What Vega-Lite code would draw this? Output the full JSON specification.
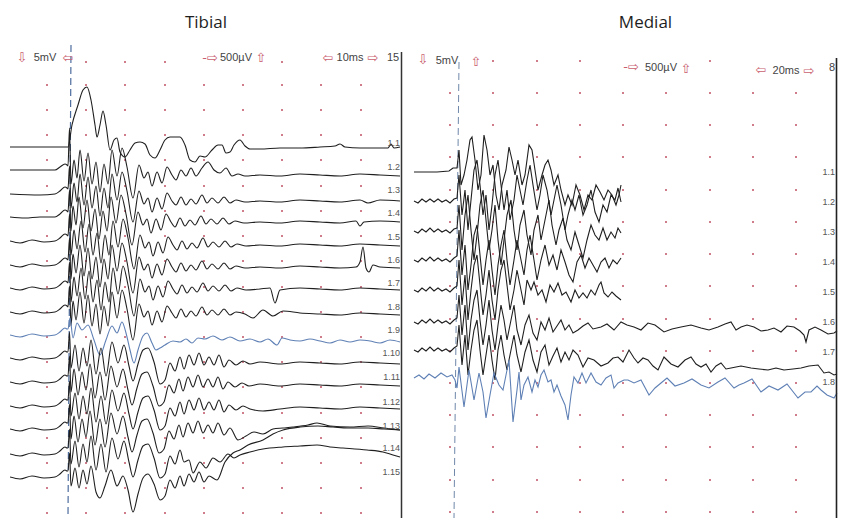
{
"$schema":"https://vega.github.io/schema/vega-lite/v6.json",
"autosize":{"type":"pad"},
"padding":{"left":10,"top":14,"right":11,"bottom":0},
"background":"white",
"spacing":2,
"config":{"view":{"stroke":null}},
"resolve":{"scale":{"x":"independent","y":"independent","color":"independent"}},
"datasets":{
"tib":[
{"s":1,"x":-58,"y":147},{"s":1,"x":-23,"y":147},{"s":1,"x":-8,"y":147},{"s":1,"x":0,"y":147},{"s":1,"x":4,"y":125},{"s":1,"x":10,"y":105},{"s":1,"x":15,"y":90},{"s":1,"x":19,"y":87},{"s":1,"x":23,"y":100},{"s":1,"x":27,"y":125},{"s":1,"x":29,"y":137},{"s":1,"x":32,"y":125},{"s":1,"x":35,"y":111},{"s":1,"x":38,"y":125},{"s":1,"x":42,"y":150},{"s":1,"x":46,"y":140},{"s":1,"x":49,"y":138},{"s":1,"x":52,"y":152},{"s":1,"x":57,"y":157},{"s":1,"x":62,"y":150},{"s":1,"x":67,"y":143},{"s":1,"x":72,"y":142},{"s":1,"x":77,"y":144},{"s":1,"x":82,"y":155},{"s":1,"x":87,"y":158},{"s":1,"x":92,"y":150},{"s":1,"x":97,"y":140},{"s":1,"x":102,"y":137},{"s":1,"x":112,"y":137},{"s":1,"x":117,"y":145},{"s":1,"x":122,"y":160},{"s":1,"x":127,"y":162},{"s":1,"x":132,"y":156},{"s":1,"x":137,"y":157},{"s":1,"x":144,"y":150},{"s":1,"x":150,"y":145},{"s":1,"x":154,"y":145},{"s":1,"x":158,"y":153},{"s":1,"x":162,"y":152},{"s":1,"x":166,"y":145},{"s":1,"x":172,"y":140},{"s":1,"x":177,"y":146},{"s":1,"x":182,"y":149},{"s":1,"x":192,"y":149},{"s":1,"x":212,"y":148},{"s":1,"x":232,"y":148},{"s":1,"x":252,"y":147},{"s":1,"x":267,"y":146},{"s":1,"x":272,"y":144},{"s":1,"x":277,"y":147},{"s":1,"x":292,"y":148},{"s":1,"x":312,"y":148},{"s":1,"x":320,"y":148},{"s":1,"x":323,"y":144},{"s":1,"x":326,"y":148},{"s":1,"x":332,"y":147},
{"s":2,"x":-58,"y":170},{"s":2,"x":-28,"y":170},{"s":2,"x":-13,"y":170},{"s":2,"x":-8,"y":167},{"s":2,"x":-3,"y":164},{"s":2,"x":-1,"y":165},{"s":2,"x":0,"y":166},{"s":2,"x":1.5,"y":128},{"s":2,"x":3,"y":184},{"s":2,"x":6,"y":160},{"s":2,"x":9,"y":178},{"s":2,"x":12,"y":150},{"s":2,"x":16,"y":181},{"s":2,"x":20,"y":153},{"s":2,"x":24,"y":184},{"s":2,"x":28,"y":162},{"s":2,"x":32,"y":192},{"s":2,"x":36,"y":164},{"s":2,"x":40,"y":184},{"s":2,"x":44,"y":150},{"s":2,"x":49,"y":176},{"s":2,"x":54,"y":148},{"s":2,"x":59,"y":167},{"s":2,"x":65,"y":198},{"s":2,"x":71,"y":165},{"s":2,"x":76,"y":178},{"s":2,"x":80,"y":172},{"s":2,"x":84,"y":186},{"s":2,"x":89,"y":172},{"s":2,"x":94,"y":183},{"s":2,"x":99,"y":167},{"s":2,"x":104,"y":175},{"s":2,"x":108,"y":180},{"s":2,"x":113,"y":170},{"s":2,"x":118,"y":176},{"s":2,"x":123,"y":168},{"s":2,"x":128,"y":176},{"s":2,"x":134,"y":168},{"s":2,"x":140,"y":162},{"s":2,"x":146,"y":170},{"s":2,"x":152,"y":173},{"s":2,"x":158,"y":168},{"s":2,"x":164,"y":176},{"s":2,"x":170,"y":174},{"s":2,"x":177,"y":176},{"s":2,"x":192,"y":175},{"s":2,"x":212,"y":176},{"s":2,"x":232,"y":174},{"s":2,"x":252,"y":175},{"s":2,"x":272,"y":176},{"s":2,"x":292,"y":174},{"s":2,"x":312,"y":175},{"s":2,"x":332,"y":176},
{"s":3,"x":-58,"y":194},{"s":3,"x":-28,"y":195},{"s":3,"x":-13,"y":194},{"s":3,"x":-8,"y":191},{"s":3,"x":-3,"y":187},{"s":3,"x":-1,"y":188},{"s":3,"x":0,"y":189},{"s":3,"x":1.5,"y":166},{"s":3,"x":3,"y":208},{"s":3,"x":6,"y":183},{"s":3,"x":9,"y":202},{"s":3,"x":12,"y":174},{"s":3,"x":16,"y":205},{"s":3,"x":20,"y":177},{"s":3,"x":24,"y":208},{"s":3,"x":28,"y":186},{"s":3,"x":32,"y":216},{"s":3,"x":36,"y":188},{"s":3,"x":40,"y":208},{"s":3,"x":44,"y":174},{"s":3,"x":49,"y":200},{"s":3,"x":54,"y":172},{"s":3,"x":59,"y":191},{"s":3,"x":65,"y":222},{"s":3,"x":71,"y":191},{"s":3,"x":76,"y":204},{"s":3,"x":80,"y":198},{"s":3,"x":84,"y":212},{"s":3,"x":89,"y":198},{"s":3,"x":94,"y":209},{"s":3,"x":99,"y":193},{"s":3,"x":104,"y":201},{"s":3,"x":108,"y":205},{"s":3,"x":113,"y":197},{"s":3,"x":118,"y":205},{"s":3,"x":123,"y":199},{"s":3,"x":128,"y":204},{"s":3,"x":134,"y":195},{"s":3,"x":139,"y":203},{"s":3,"x":144,"y":198},{"s":3,"x":150,"y":203},{"s":3,"x":156,"y":197},{"s":3,"x":162,"y":203},{"s":3,"x":168,"y":200},{"s":3,"x":177,"y":202},{"s":3,"x":192,"y":201},{"s":3,"x":212,"y":202},{"s":3,"x":232,"y":200},{"s":3,"x":252,"y":201},{"s":3,"x":272,"y":202},{"s":3,"x":292,"y":200},{"s":3,"x":300,"y":203},{"s":3,"x":312,"y":200},{"s":3,"x":332,"y":201},
{"s":4,"x":-58,"y":217},{"s":4,"x":-43,"y":218},{"s":4,"x":-28,"y":217},{"s":4,"x":-13,"y":217},{"s":4,"x":-8,"y":214},{"s":4,"x":-3,"y":210},{"s":4,"x":-1,"y":211},{"s":4,"x":0,"y":212},{"s":4,"x":1.5,"y":190},{"s":4,"x":3,"y":231},{"s":4,"x":5,"y":206},{"s":4,"x":8,"y":225},{"s":4,"x":11,"y":197},{"s":4,"x":15,"y":228},{"s":4,"x":19,"y":200},{"s":4,"x":23,"y":231},{"s":4,"x":27,"y":209},{"s":4,"x":31,"y":239},{"s":4,"x":35,"y":211},{"s":4,"x":39,"y":231},{"s":4,"x":43,"y":197},{"s":4,"x":48,"y":223},{"s":4,"x":53,"y":195},{"s":4,"x":58,"y":214},{"s":4,"x":64,"y":245},{"s":4,"x":70,"y":212},{"s":4,"x":75,"y":225},{"s":4,"x":79,"y":219},{"s":4,"x":83,"y":233},{"s":4,"x":88,"y":219},{"s":4,"x":93,"y":230},{"s":4,"x":98,"y":214},{"s":4,"x":103,"y":222},{"s":4,"x":107,"y":227},{"s":4,"x":112,"y":218},{"s":4,"x":117,"y":226},{"s":4,"x":122,"y":220},{"s":4,"x":127,"y":225},{"s":4,"x":133,"y":216},{"s":4,"x":138,"y":224},{"s":4,"x":143,"y":219},{"s":4,"x":149,"y":224},{"s":4,"x":155,"y":218},{"s":4,"x":161,"y":224},{"s":4,"x":167,"y":221},{"s":4,"x":176,"y":223},{"s":4,"x":192,"y":222},{"s":4,"x":212,"y":223},{"s":4,"x":232,"y":221},{"s":4,"x":252,"y":222},{"s":4,"x":272,"y":223},{"s":4,"x":288,"y":221},{"s":4,"x":292,"y":226},{"s":4,"x":296,"y":222},{"s":4,"x":312,"y":221},{"s":4,"x":332,"y":222},
{"s":5,"x":-58,"y":241},{"s":5,"x":-48,"y":243},{"s":5,"x":-36,"y":240},{"s":5,"x":-24,"y":242},{"s":5,"x":-13,"y":241},{"s":5,"x":-8,"y":238},{"s":5,"x":-3,"y":234},{"s":5,"x":-1,"y":235},{"s":5,"x":0,"y":236},{"s":5,"x":1.5,"y":214},{"s":5,"x":3,"y":255},{"s":5,"x":6,"y":230},{"s":5,"x":9,"y":249},{"s":5,"x":13,"y":221},{"s":5,"x":17,"y":252},{"s":5,"x":21,"y":224},{"s":5,"x":25,"y":255},{"s":5,"x":29,"y":233},{"s":5,"x":33,"y":263},{"s":5,"x":37,"y":235},{"s":5,"x":41,"y":255},{"s":5,"x":45,"y":221},{"s":5,"x":50,"y":247},{"s":5,"x":55,"y":219},{"s":5,"x":60,"y":238},{"s":5,"x":66,"y":269},{"s":5,"x":72,"y":235},{"s":5,"x":77,"y":248},{"s":5,"x":81,"y":242},{"s":5,"x":85,"y":256},{"s":5,"x":90,"y":242},{"s":5,"x":95,"y":253},{"s":5,"x":100,"y":237},{"s":5,"x":105,"y":245},{"s":5,"x":109,"y":250},{"s":5,"x":114,"y":241},{"s":5,"x":119,"y":249},{"s":5,"x":124,"y":243},{"s":5,"x":129,"y":248},{"s":5,"x":135,"y":238},{"s":5,"x":140,"y":247},{"s":5,"x":145,"y":242},{"s":5,"x":151,"y":247},{"s":5,"x":157,"y":241},{"s":5,"x":163,"y":247},{"s":5,"x":169,"y":244},{"s":5,"x":178,"y":246},{"s":5,"x":192,"y":245},{"s":5,"x":212,"y":246},{"s":5,"x":232,"y":244},{"s":5,"x":252,"y":245},{"s":5,"x":272,"y":246},{"s":5,"x":292,"y":244},{"s":5,"x":312,"y":245},{"s":5,"x":332,"y":246},
{"s":6,"x":-58,"y":265},{"s":6,"x":-48,"y":267},{"s":6,"x":-36,"y":264},{"s":6,"x":-24,"y":266},{"s":6,"x":-13,"y":265},{"s":6,"x":-8,"y":262},{"s":6,"x":-3,"y":258},{"s":6,"x":-1,"y":259},{"s":6,"x":0,"y":260},{"s":6,"x":1.5,"y":238},{"s":6,"x":3,"y":279},{"s":6,"x":5,"y":254},{"s":6,"x":8,"y":273},{"s":6,"x":12,"y":245},{"s":6,"x":16,"y":276},{"s":6,"x":20,"y":248},{"s":6,"x":24,"y":279},{"s":6,"x":28,"y":257},{"s":6,"x":32,"y":287},{"s":6,"x":36,"y":259},{"s":6,"x":40,"y":279},{"s":6,"x":44,"y":245},{"s":6,"x":49,"y":271},{"s":6,"x":54,"y":243},{"s":6,"x":59,"y":262},{"s":6,"x":65,"y":293},{"s":6,"x":71,"y":257},{"s":6,"x":76,"y":270},{"s":6,"x":80,"y":264},{"s":6,"x":84,"y":278},{"s":6,"x":89,"y":264},{"s":6,"x":94,"y":275},{"s":6,"x":99,"y":259},{"s":6,"x":104,"y":267},{"s":6,"x":108,"y":272},{"s":6,"x":113,"y":263},{"s":6,"x":118,"y":271},{"s":6,"x":123,"y":265},{"s":6,"x":128,"y":270},{"s":6,"x":134,"y":261},{"s":6,"x":139,"y":269},{"s":6,"x":144,"y":264},{"s":6,"x":150,"y":269},{"s":6,"x":156,"y":263},{"s":6,"x":162,"y":269},{"s":6,"x":168,"y":266},{"s":6,"x":177,"y":268},{"s":6,"x":192,"y":267},{"s":6,"x":212,"y":268},{"s":6,"x":232,"y":266},{"s":6,"x":252,"y":267},{"s":6,"x":272,"y":268},{"s":6,"x":288,"y":267},{"s":6,"x":292,"y":262},{"s":6,"x":295,"y":247},{"s":6,"x":298,"y":268},{"s":6,"x":301,"y":272},{"s":6,"x":305,"y":265},{"s":6,"x":312,"y":267},{"s":6,"x":332,"y":268},
{"s":7,"x":-58,"y":288},{"s":7,"x":-48,"y":290},{"s":7,"x":-36,"y":287},{"s":7,"x":-24,"y":289},{"s":7,"x":-13,"y":288},{"s":7,"x":-8,"y":285},{"s":7,"x":-3,"y":281},{"s":7,"x":-1,"y":282},{"s":7,"x":0,"y":283},{"s":7,"x":1.5,"y":262},{"s":7,"x":3,"y":302},{"s":7,"x":6,"y":277},{"s":7,"x":9,"y":296},{"s":7,"x":13,"y":268},{"s":7,"x":17,"y":299},{"s":7,"x":21,"y":271},{"s":7,"x":25,"y":302},{"s":7,"x":29,"y":280},{"s":7,"x":33,"y":310},{"s":7,"x":37,"y":282},{"s":7,"x":41,"y":302},{"s":7,"x":45,"y":268},{"s":7,"x":50,"y":294},{"s":7,"x":55,"y":266},{"s":7,"x":60,"y":285},{"s":7,"x":66,"y":316},{"s":7,"x":72,"y":279},{"s":7,"x":77,"y":292},{"s":7,"x":81,"y":286},{"s":7,"x":85,"y":300},{"s":7,"x":90,"y":286},{"s":7,"x":95,"y":297},{"s":7,"x":100,"y":281},{"s":7,"x":105,"y":289},{"s":7,"x":109,"y":294},{"s":7,"x":114,"y":285},{"s":7,"x":119,"y":293},{"s":7,"x":124,"y":287},{"s":7,"x":129,"y":292},{"s":7,"x":135,"y":283},{"s":7,"x":140,"y":291},{"s":7,"x":145,"y":286},{"s":7,"x":151,"y":291},{"s":7,"x":157,"y":285},{"s":7,"x":163,"y":291},{"s":7,"x":169,"y":288},{"s":7,"x":178,"y":290},{"s":7,"x":192,"y":289},{"s":7,"x":202,"y":288},{"s":7,"x":207,"y":303},{"s":7,"x":212,"y":290},{"s":7,"x":232,"y":288},{"s":7,"x":252,"y":289},{"s":7,"x":272,"y":290},{"s":7,"x":292,"y":288},{"s":7,"x":312,"y":289},{"s":7,"x":332,"y":290},
{"s":8,"x":-58,"y":312},{"s":8,"x":-48,"y":314},{"s":8,"x":-36,"y":311},{"s":8,"x":-24,"y":313},{"s":8,"x":-13,"y":312},{"s":8,"x":-8,"y":309},{"s":8,"x":-3,"y":305},{"s":8,"x":-1,"y":306},{"s":8,"x":0,"y":307},{"s":8,"x":1.5,"y":286},{"s":8,"x":3,"y":326},{"s":8,"x":5,"y":301},{"s":8,"x":8,"y":320},{"s":8,"x":12,"y":292},{"s":8,"x":16,"y":323},{"s":8,"x":20,"y":295},{"s":8,"x":24,"y":326},{"s":8,"x":28,"y":304},{"s":8,"x":32,"y":334},{"s":8,"x":36,"y":306},{"s":8,"x":40,"y":326},{"s":8,"x":44,"y":292},{"s":8,"x":49,"y":318},{"s":8,"x":54,"y":290},{"s":8,"x":59,"y":309},{"s":8,"x":65,"y":340},{"s":8,"x":71,"y":304},{"s":8,"x":76,"y":317},{"s":8,"x":80,"y":311},{"s":8,"x":84,"y":325},{"s":8,"x":89,"y":311},{"s":8,"x":94,"y":322},{"s":8,"x":99,"y":306},{"s":8,"x":104,"y":313},{"s":8,"x":108,"y":318},{"s":8,"x":113,"y":309},{"s":8,"x":118,"y":317},{"s":8,"x":123,"y":311},{"s":8,"x":128,"y":316},{"s":8,"x":134,"y":307},{"s":8,"x":139,"y":315},{"s":8,"x":144,"y":310},{"s":8,"x":150,"y":315},{"s":8,"x":156,"y":309},{"s":8,"x":162,"y":315},{"s":8,"x":168,"y":312},{"s":8,"x":177,"y":314},{"s":8,"x":185,"y":318},{"s":8,"x":195,"y":310},{"s":8,"x":205,"y":316},{"s":8,"x":215,"y":311},{"s":8,"x":232,"y":313},{"s":8,"x":252,"y":314},{"s":8,"x":272,"y":315},{"s":8,"x":292,"y":313},{"s":8,"x":312,"y":314},{"s":8,"x":332,"y":315},
{"s":9,"x":-58,"y":335},{"s":9,"x":-48,"y":337},{"s":9,"x":-36,"y":334},{"s":9,"x":-24,"y":336},{"s":9,"x":-13,"y":335},{"s":9,"x":-8,"y":332},{"s":9,"x":-3,"y":328},{"s":9,"x":-1,"y":329},{"s":9,"x":0,"y":329},{"s":9,"x":2,"y":318},{"s":9,"x":5,"y":338},{"s":9,"x":9,"y":323},{"s":9,"x":14,"y":330},{"s":9,"x":20,"y":325},{"s":9,"x":26,"y":340},{"s":9,"x":32,"y":355},{"s":9,"x":38,"y":340},{"s":9,"x":44,"y":326},{"s":9,"x":49,"y":333},{"s":9,"x":54,"y":322},{"s":9,"x":58,"y":333},{"s":9,"x":62,"y":350},{"s":9,"x":66,"y":363},{"s":9,"x":70,"y":350},{"s":9,"x":75,"y":336},{"s":9,"x":79,"y":333},{"s":9,"x":84,"y":343},{"s":9,"x":88,"y":350},{"s":9,"x":92,"y":348},{"s":9,"x":97,"y":345},{"s":9,"x":105,"y":341},{"s":9,"x":112,"y":342},{"s":9,"x":118,"y":339},{"s":9,"x":124,"y":343},{"s":9,"x":130,"y":338},{"s":9,"x":137,"y":339},{"s":9,"x":145,"y":336},{"s":9,"x":154,"y":340},{"s":9,"x":162,"y":337},{"s":9,"x":172,"y":341},{"s":9,"x":182,"y":339},{"s":9,"x":192,"y":342},{"s":9,"x":200,"y":339},{"s":9,"x":209,"y":345},{"s":9,"x":214,"y":338},{"s":9,"x":222,"y":340},{"s":9,"x":232,"y":341},{"s":9,"x":242,"y":339},{"s":9,"x":252,"y":341},{"s":9,"x":262,"y":343},{"s":9,"x":272,"y":340},{"s":9,"x":282,"y":342},{"s":9,"x":292,"y":340},{"s":9,"x":302,"y":341},{"s":9,"x":312,"y":343},{"s":9,"x":322,"y":340},{"s":9,"x":332,"y":342},
{"s":10,"x":-58,"y":358},{"s":10,"x":-48,"y":360},{"s":10,"x":-36,"y":357},{"s":10,"x":-24,"y":359},{"s":10,"x":-13,"y":358},{"s":10,"x":-8,"y":355},{"s":10,"x":-3,"y":351},{"s":10,"x":-1,"y":352},{"s":10,"x":0,"y":352},{"s":10,"x":1.5,"y":332},{"s":10,"x":3,"y":368},{"s":10,"x":7,"y":345},{"s":10,"x":11,"y":371},{"s":10,"x":15,"y":348},{"s":10,"x":19,"y":366},{"s":10,"x":23,"y":340},{"s":10,"x":28,"y":374},{"s":10,"x":33,"y":348},{"s":10,"x":38,"y":376},{"s":10,"x":44,"y":342},{"s":10,"x":50,"y":363},{"s":10,"x":56,"y":345},{"s":10,"x":61,"y":366},{"s":10,"x":65,"y":381},{"s":10,"x":70,"y":364},{"s":10,"x":75,"y":350},{"s":10,"x":80,"y":348},{"s":10,"x":86,"y":362},{"s":10,"x":92,"y":384},{"s":10,"x":97,"y":380},{"s":10,"x":102,"y":363},{"s":10,"x":107,"y":371},{"s":10,"x":112,"y":357},{"s":10,"x":116,"y":369},{"s":10,"x":121,"y":355},{"s":10,"x":126,"y":365},{"s":10,"x":131,"y":353},{"s":10,"x":136,"y":365},{"s":10,"x":141,"y":357},{"s":10,"x":146,"y":365},{"s":10,"x":151,"y":355},{"s":10,"x":156,"y":367},{"s":10,"x":161,"y":360},{"s":10,"x":168,"y":365},{"s":10,"x":175,"y":361},{"s":10,"x":182,"y":364},{"s":10,"x":192,"y":362},{"s":10,"x":212,"y":364},{"s":10,"x":232,"y":362},{"s":10,"x":252,"y":363},{"s":10,"x":272,"y":364},{"s":10,"x":292,"y":362},{"s":10,"x":312,"y":363},{"s":10,"x":332,"y":364},
{"s":11,"x":-58,"y":382},{"s":11,"x":-48,"y":384},{"s":11,"x":-36,"y":381},{"s":11,"x":-24,"y":383},{"s":11,"x":-13,"y":382},{"s":11,"x":-8,"y":379},{"s":11,"x":-3,"y":375},{"s":11,"x":-1,"y":376},{"s":11,"x":0,"y":376},{"s":11,"x":1.5,"y":356},{"s":11,"x":3,"y":392},{"s":11,"x":6,"y":369},{"s":11,"x":10,"y":395},{"s":11,"x":14,"y":372},{"s":11,"x":18,"y":390},{"s":11,"x":22,"y":364},{"s":11,"x":27,"y":398},{"s":11,"x":32,"y":372},{"s":11,"x":37,"y":400},{"s":11,"x":43,"y":366},{"s":11,"x":49,"y":387},{"s":11,"x":55,"y":369},{"s":11,"x":60,"y":390},{"s":11,"x":64,"y":405},{"s":11,"x":69,"y":388},{"s":11,"x":74,"y":374},{"s":11,"x":79,"y":372},{"s":11,"x":85,"y":386},{"s":11,"x":91,"y":406},{"s":11,"x":96,"y":402},{"s":11,"x":101,"y":385},{"s":11,"x":106,"y":393},{"s":11,"x":111,"y":379},{"s":11,"x":115,"y":391},{"s":11,"x":120,"y":377},{"s":11,"x":125,"y":387},{"s":11,"x":130,"y":375},{"s":11,"x":135,"y":387},{"s":11,"x":140,"y":379},{"s":11,"x":145,"y":387},{"s":11,"x":150,"y":377},{"s":11,"x":155,"y":389},{"s":11,"x":160,"y":382},{"s":11,"x":167,"y":387},{"s":11,"x":174,"y":383},{"s":11,"x":181,"y":386},{"s":11,"x":192,"y":384},{"s":11,"x":212,"y":386},{"s":11,"x":232,"y":384},{"s":11,"x":252,"y":385},{"s":11,"x":272,"y":386},{"s":11,"x":292,"y":384},{"s":11,"x":312,"y":385},{"s":11,"x":332,"y":386},
{"s":12,"x":-58,"y":406},{"s":12,"x":-48,"y":408},{"s":12,"x":-36,"y":405},{"s":12,"x":-24,"y":407},{"s":12,"x":-13,"y":406},{"s":12,"x":-8,"y":403},{"s":12,"x":-3,"y":399},{"s":12,"x":-1,"y":400},{"s":12,"x":0,"y":400},{"s":12,"x":1.5,"y":381},{"s":12,"x":3,"y":416},{"s":12,"x":7,"y":393},{"s":12,"x":11,"y":419},{"s":12,"x":15,"y":396},{"s":12,"x":19,"y":414},{"s":12,"x":23,"y":388},{"s":12,"x":28,"y":422},{"s":12,"x":33,"y":396},{"s":12,"x":38,"y":424},{"s":12,"x":44,"y":390},{"s":12,"x":50,"y":411},{"s":12,"x":56,"y":393},{"s":12,"x":61,"y":414},{"s":12,"x":65,"y":429},{"s":12,"x":70,"y":412},{"s":12,"x":75,"y":398},{"s":12,"x":80,"y":396},{"s":12,"x":86,"y":410},{"s":12,"x":92,"y":430},{"s":12,"x":97,"y":426},{"s":12,"x":102,"y":408},{"s":12,"x":107,"y":416},{"s":12,"x":112,"y":402},{"s":12,"x":116,"y":414},{"s":12,"x":121,"y":400},{"s":12,"x":126,"y":410},{"s":12,"x":131,"y":398},{"s":12,"x":136,"y":410},{"s":12,"x":141,"y":402},{"s":12,"x":146,"y":410},{"s":12,"x":151,"y":400},{"s":12,"x":156,"y":412},{"s":12,"x":161,"y":405},{"s":12,"x":168,"y":410},{"s":12,"x":175,"y":406},{"s":12,"x":182,"y":409},{"s":12,"x":195,"y":411},{"s":12,"x":212,"y":409},{"s":12,"x":232,"y":407},{"s":12,"x":252,"y":408},{"s":12,"x":272,"y":409},{"s":12,"x":292,"y":407},{"s":12,"x":312,"y":408},{"s":12,"x":332,"y":409},
{"s":13,"x":-58,"y":429},{"s":13,"x":-48,"y":431},{"s":13,"x":-36,"y":428},{"s":13,"x":-24,"y":430},{"s":13,"x":-13,"y":429},{"s":13,"x":-8,"y":426},{"s":13,"x":-3,"y":422},{"s":13,"x":-1,"y":423},{"s":13,"x":0,"y":423},{"s":13,"x":1.5,"y":404},{"s":13,"x":3,"y":439},{"s":13,"x":6,"y":416},{"s":13,"x":10,"y":442},{"s":13,"x":14,"y":419},{"s":13,"x":18,"y":437},{"s":13,"x":22,"y":411},{"s":13,"x":27,"y":445},{"s":13,"x":32,"y":419},{"s":13,"x":37,"y":447},{"s":13,"x":43,"y":413},{"s":13,"x":49,"y":434},{"s":13,"x":55,"y":416},{"s":13,"x":60,"y":437},{"s":13,"x":64,"y":452},{"s":13,"x":69,"y":435},{"s":13,"x":74,"y":421},{"s":13,"x":79,"y":419},{"s":13,"x":85,"y":433},{"s":13,"x":91,"y":453},{"s":13,"x":96,"y":449},{"s":13,"x":101,"y":431},{"s":13,"x":106,"y":439},{"s":13,"x":111,"y":425},{"s":13,"x":115,"y":437},{"s":13,"x":120,"y":423},{"s":13,"x":125,"y":433},{"s":13,"x":130,"y":421},{"s":13,"x":135,"y":433},{"s":13,"x":140,"y":425},{"s":13,"x":145,"y":433},{"s":13,"x":150,"y":423},{"s":13,"x":156,"y":435},{"s":13,"x":162,"y":428},{"s":13,"x":170,"y":440},{"s":13,"x":178,"y":436},{"s":13,"x":186,"y":432},{"s":13,"x":195,"y":434},{"s":13,"x":205,"y":429},{"s":13,"x":215,"y":428},{"s":13,"x":225,"y":427},{"s":13,"x":240,"y":425},{"s":13,"x":249,"y":423},{"s":13,"x":262,"y":426},{"s":13,"x":282,"y":427},{"s":13,"x":300,"y":426},{"s":13,"x":316,"y":428},{"s":13,"x":332,"y":430},
{"s":14,"x":-58,"y":454},{"s":14,"x":-48,"y":456},{"s":14,"x":-36,"y":453},{"s":14,"x":-24,"y":455},{"s":14,"x":-13,"y":454},{"s":14,"x":-8,"y":451},{"s":14,"x":-3,"y":447},{"s":14,"x":-1,"y":448},{"s":14,"x":0,"y":448},{"s":14,"x":1.5,"y":429},{"s":14,"x":3,"y":464},{"s":14,"x":7,"y":441},{"s":14,"x":11,"y":467},{"s":14,"x":15,"y":444},{"s":14,"x":19,"y":462},{"s":14,"x":23,"y":436},{"s":14,"x":28,"y":470},{"s":14,"x":33,"y":444},{"s":14,"x":38,"y":472},{"s":14,"x":44,"y":438},{"s":14,"x":50,"y":459},{"s":14,"x":56,"y":441},{"s":14,"x":61,"y":462},{"s":14,"x":65,"y":477},{"s":14,"x":70,"y":460},{"s":14,"x":75,"y":446},{"s":14,"x":80,"y":444},{"s":14,"x":86,"y":458},{"s":14,"x":92,"y":478},{"s":14,"x":97,"y":474},{"s":14,"x":102,"y":456},{"s":14,"x":107,"y":464},{"s":14,"x":112,"y":450},{"s":14,"x":116,"y":462},{"s":14,"x":121,"y":460},{"s":14,"x":125,"y":473},{"s":14,"x":132,"y":462},{"s":14,"x":138,"y":468},{"s":14,"x":145,"y":458},{"s":14,"x":152,"y":462},{"s":14,"x":160,"y":454},{"s":14,"x":166,"y":458},{"s":14,"x":172,"y":455},{"s":14,"x":182,"y":452},{"s":14,"x":195,"y":449},{"s":14,"x":215,"y":447},{"s":14,"x":232,"y":446},{"s":14,"x":249,"y":445},{"s":14,"x":262,"y":447},{"s":14,"x":275,"y":448},{"s":14,"x":299,"y":450},{"s":14,"x":315,"y":452},{"s":14,"x":325,"y":455},{"s":14,"x":332,"y":457},
{"s":15,"x":-58,"y":477},{"s":15,"x":-48,"y":479},{"s":15,"x":-36,"y":476},{"s":15,"x":-24,"y":478},{"s":15,"x":-13,"y":477},{"s":15,"x":-8,"y":474},{"s":15,"x":-3,"y":470},{"s":15,"x":-1,"y":471},{"s":15,"x":0,"y":471},{"s":15,"x":1.5,"y":453},{"s":15,"x":3,"y":486},{"s":15,"x":7,"y":468},{"s":15,"x":11,"y":488},{"s":15,"x":15,"y":470},{"s":15,"x":19,"y":484},{"s":15,"x":23,"y":466},{"s":15,"x":28,"y":492},{"s":15,"x":32,"y":498},{"s":15,"x":37,"y":486},{"s":15,"x":43,"y":470},{"s":15,"x":49,"y":486},{"s":15,"x":55,"y":476},{"s":15,"x":60,"y":490},{"s":15,"x":65,"y":512},{"s":15,"x":70,"y":494},{"s":15,"x":75,"y":478},{"s":15,"x":80,"y":474},{"s":15,"x":86,"y":484},{"s":15,"x":92,"y":500},{"s":15,"x":97,"y":496},{"s":15,"x":102,"y":480},{"s":15,"x":107,"y":488},{"s":15,"x":112,"y":476},{"s":15,"x":116,"y":486},{"s":15,"x":121,"y":474},{"s":15,"x":126,"y":482},{"s":15,"x":131,"y":472},{"s":15,"x":136,"y":482},{"s":15,"x":141,"y":476},{"s":15,"x":149,"y":480},{"s":15,"x":157,"y":462},{"s":15,"x":165,"y":453},{"s":15,"x":172,"y":450},{"s":15,"x":180,"y":445},{"s":15,"x":195,"y":440},{"s":15,"x":205,"y":434},{"s":15,"x":215,"y":430},{"s":15,"x":232,"y":427},{"s":15,"x":250,"y":426},{"s":15,"x":265,"y":427},{"s":15,"x":280,"y":428},{"s":15,"x":300,"y":428},{"s":15,"x":316,"y":429},{"s":15,"x":332,"y":430}
],
"med":[
{"s":1,"x":-43,"y":172},{"s":1,"x":-20,"y":172},{"s":1,"x":-8,"y":171},{"s":1,"x":-4,"y":168},{"s":1,"x":0,"y":168},{"s":1,"x":2,"y":150},{"s":1,"x":4,"y":185},{"s":1,"x":7,"y":175},{"s":1,"x":10,"y":160},{"s":1,"x":13,"y":140},{"s":1,"x":15,"y":137},{"s":1,"x":18,"y":160},{"s":1,"x":21,"y":190},{"s":1,"x":24,"y":175},{"s":1,"x":27,"y":135},{"s":1,"x":30,"y":150},{"s":1,"x":33,"y":175},{"s":1,"x":36,"y":165},{"s":1,"x":39,"y":195},{"s":1,"x":42,"y":210},{"s":1,"x":45,"y":185},{"s":1,"x":49,"y":170},{"s":1,"x":52,"y":147},{"s":1,"x":55,"y":160},{"s":1,"x":58,"y":175},{"s":1,"x":61,"y":160},{"s":1,"x":65,"y":185},{"s":1,"x":68,"y":175},{"s":1,"x":72,"y":145},{"s":1,"x":75,"y":150},{"s":1,"x":78,"y":170},{"s":1,"x":81,"y":190},{"s":1,"x":85,"y":175},{"s":1,"x":88,"y":165},{"s":1,"x":91,"y":160},{"s":1,"x":94,"y":170},{"s":1,"x":97,"y":185},{"s":1,"x":101,"y":175},{"s":1,"x":104,"y":190},{"s":1,"x":108,"y":205},{"s":1,"x":111,"y":195},{"s":1,"x":115,"y":205},{"s":1,"x":119,"y":185},{"s":1,"x":123,"y":195},{"s":1,"x":127,"y":210},{"s":1,"x":131,"y":195},{"s":1,"x":135,"y":200},{"s":1,"x":139,"y":185},{"s":1,"x":143,"y":192},{"s":1,"x":147,"y":200},{"s":1,"x":151,"y":190},{"s":1,"x":155,"y":195},{"s":1,"x":159,"y":205},{"s":1,"x":162,"y":195},{"s":1,"x":164,"y":185},
{"s":2,"x":-43,"y":201},{"s":2,"x":-39,"y":203},{"s":2,"x":-35,"y":199},{"s":2,"x":-31,"y":202},{"s":2,"x":-27,"y":199},{"s":2,"x":-23,"y":202},{"s":2,"x":-19,"y":199},{"s":2,"x":-15,"y":202},{"s":2,"x":-11,"y":200},{"s":2,"x":-7,"y":203},{"s":2,"x":-3,"y":199},{"s":2,"x":0,"y":198},{"s":2,"x":2,"y":175},{"s":2,"x":5,"y":215},{"s":2,"x":8,"y":190},{"s":2,"x":11,"y":230},{"s":2,"x":14,"y":200},{"s":2,"x":17,"y":170},{"s":2,"x":20,"y":160},{"s":2,"x":23,"y":185},{"s":2,"x":26,"y":215},{"s":2,"x":29,"y":195},{"s":2,"x":32,"y":230},{"s":2,"x":35,"y":205},{"s":2,"x":38,"y":175},{"s":2,"x":41,"y":160},{"s":2,"x":44,"y":185},{"s":2,"x":47,"y":210},{"s":2,"x":50,"y":190},{"s":2,"x":53,"y":220},{"s":2,"x":57,"y":200},{"s":2,"x":60,"y":175},{"s":2,"x":63,"y":190},{"s":2,"x":66,"y":205},{"s":2,"x":70,"y":180},{"s":2,"x":73,"y":165},{"s":2,"x":76,"y":185},{"s":2,"x":80,"y":210},{"s":2,"x":83,"y":195},{"s":2,"x":86,"y":175},{"s":2,"x":90,"y":190},{"s":2,"x":94,"y":215},{"s":2,"x":97,"y":200},{"s":2,"x":100,"y":185},{"s":2,"x":104,"y":205},{"s":2,"x":108,"y":230},{"s":2,"x":111,"y":215},{"s":2,"x":115,"y":200},{"s":2,"x":118,"y":210},{"s":2,"x":122,"y":195},{"s":2,"x":126,"y":215},{"s":2,"x":130,"y":205},{"s":2,"x":134,"y":190},{"s":2,"x":138,"y":212},{"s":2,"x":142,"y":222},{"s":2,"x":146,"y":205},{"s":2,"x":150,"y":212},{"s":2,"x":154,"y":195},{"s":2,"x":158,"y":200},{"s":2,"x":161,"y":188},{"s":2,"x":164,"y":202},
{"s":3,"x":-43,"y":231},{"s":3,"x":-39,"y":233},{"s":3,"x":-35,"y":229},{"s":3,"x":-31,"y":232},{"s":3,"x":-27,"y":228},{"s":3,"x":-23,"y":232},{"s":3,"x":-19,"y":229},{"s":3,"x":-15,"y":232},{"s":3,"x":-11,"y":230},{"s":3,"x":-7,"y":233},{"s":3,"x":-3,"y":229},{"s":3,"x":0,"y":228},{"s":3,"x":2,"y":205},{"s":3,"x":5,"y":250},{"s":3,"x":8,"y":215},{"s":3,"x":11,"y":195},{"s":3,"x":14,"y":230},{"s":3,"x":17,"y":260},{"s":3,"x":20,"y":235},{"s":3,"x":23,"y":205},{"s":3,"x":26,"y":190},{"s":3,"x":29,"y":220},{"s":3,"x":32,"y":250},{"s":3,"x":35,"y":230},{"s":3,"x":38,"y":205},{"s":3,"x":41,"y":240},{"s":3,"x":44,"y":265},{"s":3,"x":47,"y":240},{"s":3,"x":50,"y":215},{"s":3,"x":54,"y":200},{"s":3,"x":57,"y":230},{"s":3,"x":60,"y":250},{"s":3,"x":63,"y":225},{"s":3,"x":67,"y":210},{"s":3,"x":70,"y":235},{"s":3,"x":74,"y":255},{"s":3,"x":77,"y":230},{"s":3,"x":81,"y":215},{"s":3,"x":84,"y":240},{"s":3,"x":88,"y":220},{"s":3,"x":92,"y":200},{"s":3,"x":95,"y":225},{"s":3,"x":99,"y":245},{"s":3,"x":102,"y":230},{"s":3,"x":106,"y":218},{"s":3,"x":110,"y":240},{"s":3,"x":114,"y":250},{"s":3,"x":118,"y":232},{"s":3,"x":122,"y":245},{"s":3,"x":126,"y":258},{"s":3,"x":130,"y":240},{"s":3,"x":134,"y":225},{"s":3,"x":138,"y":235},{"s":3,"x":142,"y":240},{"s":3,"x":146,"y":228},{"s":3,"x":150,"y":240},{"s":3,"x":154,"y":232},{"s":3,"x":158,"y":238},{"s":3,"x":161,"y":228},{"s":3,"x":164,"y":233},
{"s":4,"x":-43,"y":260},{"s":4,"x":-39,"y":262},{"s":4,"x":-35,"y":258},{"s":4,"x":-31,"y":261},{"s":4,"x":-27,"y":257},{"s":4,"x":-23,"y":261},{"s":4,"x":-19,"y":258},{"s":4,"x":-15,"y":261},{"s":4,"x":-11,"y":259},{"s":4,"x":-7,"y":262},{"s":4,"x":-3,"y":258},{"s":4,"x":0,"y":256},{"s":4,"x":2,"y":230},{"s":4,"x":5,"y":275},{"s":4,"x":8,"y":245},{"s":4,"x":11,"y":290},{"s":4,"x":14,"y":265},{"s":4,"x":17,"y":235},{"s":4,"x":20,"y":225},{"s":4,"x":23,"y":255},{"s":4,"x":26,"y":285},{"s":4,"x":29,"y":260},{"s":4,"x":32,"y":240},{"s":4,"x":35,"y":270},{"s":4,"x":38,"y":295},{"s":4,"x":41,"y":265},{"s":4,"x":44,"y":245},{"s":4,"x":47,"y":230},{"s":4,"x":50,"y":260},{"s":4,"x":53,"y":285},{"s":4,"x":57,"y":260},{"s":4,"x":60,"y":240},{"s":4,"x":63,"y":255},{"s":4,"x":67,"y":275},{"s":4,"x":70,"y":250},{"s":4,"x":73,"y":235},{"s":4,"x":77,"y":260},{"s":4,"x":80,"y":280},{"s":4,"x":84,"y":260},{"s":4,"x":88,"y":245},{"s":4,"x":92,"y":265},{"s":4,"x":96,"y":255},{"s":4,"x":100,"y":270},{"s":4,"x":104,"y":250},{"s":4,"x":108,"y":262},{"s":4,"x":112,"y":275},{"s":4,"x":116,"y":282},{"s":4,"x":120,"y":262},{"s":4,"x":124,"y":255},{"s":4,"x":128,"y":268},{"s":4,"x":132,"y":258},{"s":4,"x":136,"y":265},{"s":4,"x":140,"y":272},{"s":4,"x":144,"y":262},{"s":4,"x":148,"y":258},{"s":4,"x":152,"y":268},{"s":4,"x":156,"y":260},{"s":4,"x":160,"y":264},{"s":4,"x":164,"y":258},
{"s":5,"x":-43,"y":290},{"s":5,"x":-39,"y":292},{"s":5,"x":-35,"y":288},{"s":5,"x":-31,"y":291},{"s":5,"x":-27,"y":287},{"s":5,"x":-23,"y":291},{"s":5,"x":-19,"y":288},{"s":5,"x":-15,"y":291},{"s":5,"x":-11,"y":289},{"s":5,"x":-7,"y":292},{"s":5,"x":-3,"y":288},{"s":5,"x":0,"y":286},{"s":5,"x":2,"y":260},{"s":5,"x":5,"y":305},{"s":5,"x":8,"y":275},{"s":5,"x":11,"y":320},{"s":5,"x":14,"y":290},{"s":5,"x":17,"y":265},{"s":5,"x":20,"y":255},{"s":5,"x":23,"y":285},{"s":5,"x":26,"y":315},{"s":5,"x":29,"y":295},{"s":5,"x":32,"y":270},{"s":5,"x":35,"y":300},{"s":5,"x":38,"y":320},{"s":5,"x":41,"y":290},{"s":5,"x":44,"y":270},{"s":5,"x":47,"y":260},{"s":5,"x":50,"y":285},{"s":5,"x":53,"y":310},{"s":5,"x":57,"y":290},{"s":5,"x":60,"y":270},{"s":5,"x":63,"y":285},{"s":5,"x":67,"y":305},{"s":5,"x":70,"y":280},{"s":5,"x":74,"y":290},{"s":5,"x":77,"y":282},{"s":5,"x":81,"y":295},{"s":5,"x":85,"y":290},{"s":5,"x":89,"y":302},{"s":5,"x":93,"y":285},{"s":5,"x":97,"y":292},{"s":5,"x":101,"y":283},{"s":5,"x":105,"y":295},{"s":5,"x":109,"y":292},{"s":5,"x":114,"y":302},{"s":5,"x":118,"y":290},{"s":5,"x":122,"y":298},{"s":5,"x":126,"y":293},{"s":5,"x":130,"y":298},{"s":5,"x":134,"y":290},{"s":5,"x":138,"y":295},{"s":5,"x":142,"y":285},{"s":5,"x":144,"y":282},{"s":5,"x":147,"y":293},{"s":5,"x":151,"y":297},{"s":5,"x":155,"y":292},{"s":5,"x":159,"y":296},{"s":5,"x":164,"y":300},
{"s":6,"x":-43,"y":322},{"s":6,"x":-39,"y":324},{"s":6,"x":-35,"y":320},{"s":6,"x":-31,"y":323},{"s":6,"x":-27,"y":319},{"s":6,"x":-23,"y":323},{"s":6,"x":-19,"y":320},{"s":6,"x":-15,"y":323},{"s":6,"x":-11,"y":321},{"s":6,"x":-7,"y":324},{"s":6,"x":-3,"y":320},{"s":6,"x":0,"y":318},{"s":6,"x":2,"y":295},{"s":6,"x":5,"y":335},{"s":6,"x":8,"y":305},{"s":6,"x":11,"y":350},{"s":6,"x":14,"y":320},{"s":6,"x":17,"y":300},{"s":6,"x":20,"y":290},{"s":6,"x":23,"y":320},{"s":6,"x":26,"y":345},{"s":6,"x":29,"y":325},{"s":6,"x":32,"y":300},{"s":6,"x":35,"y":330},{"s":6,"x":38,"y":350},{"s":6,"x":41,"y":325},{"s":6,"x":44,"y":305},{"s":6,"x":47,"y":320},{"s":6,"x":50,"y":340},{"s":6,"x":54,"y":320},{"s":6,"x":57,"y":305},{"s":6,"x":60,"y":330},{"s":6,"x":64,"y":345},{"s":6,"x":68,"y":325},{"s":6,"x":72,"y":315},{"s":6,"x":76,"y":333},{"s":6,"x":80,"y":340},{"s":6,"x":84,"y":322},{"s":6,"x":88,"y":330},{"s":6,"x":92,"y":318},{"s":6,"x":96,"y":332},{"s":6,"x":100,"y":326},{"s":6,"x":104,"y":320},{"s":6,"x":108,"y":330},{"s":6,"x":112,"y":325},{"s":6,"x":116,"y":333},{"s":6,"x":121,"y":330},{"s":6,"x":126,"y":326},{"s":6,"x":131,"y":323},{"s":6,"x":136,"y":329},{"s":6,"x":144,"y":327},{"s":6,"x":150,"y":324},{"s":6,"x":157,"y":330},{"s":6,"x":164,"y":322},{"s":6,"x":170,"y":325},{"s":6,"x":177,"y":327},{"s":6,"x":184,"y":330},{"s":6,"x":191,"y":323},{"s":6,"x":198,"y":325},{"s":6,"x":207,"y":332},{"s":6,"x":215,"y":329},{"s":6,"x":224,"y":327},{"s":6,"x":234,"y":325},{"s":6,"x":244,"y":328},{"s":6,"x":252,"y":330},{"s":6,"x":261,"y":327},{"s":6,"x":268,"y":324},{"s":6,"x":274,"y":322},{"s":6,"x":279,"y":330},{"s":6,"x":284,"y":327},{"s":6,"x":290,"y":325},{"s":6,"x":297,"y":327},{"s":6,"x":304,"y":331},{"s":6,"x":311,"y":330},{"s":6,"x":317,"y":328},{"s":6,"x":324,"y":332},{"s":6,"x":330,"y":326},{"s":6,"x":337,"y":327},{"s":6,"x":343,"y":331},{"s":6,"x":347,"y":335},{"s":6,"x":349,"y":342},{"s":6,"x":352,"y":330},{"s":6,"x":358,"y":327},{"s":6,"x":364,"y":330},{"s":6,"x":371,"y":334},{"s":6,"x":377,"y":333},{"s":6,"x":380,"y":331},
{"s":7,"x":-43,"y":350},{"s":7,"x":-39,"y":352},{"s":7,"x":-35,"y":348},{"s":7,"x":-31,"y":351},{"s":7,"x":-27,"y":347},{"s":7,"x":-23,"y":351},{"s":7,"x":-19,"y":348},{"s":7,"x":-15,"y":351},{"s":7,"x":-11,"y":349},{"s":7,"x":-7,"y":352},{"s":7,"x":-3,"y":348},{"s":7,"x":0,"y":346},{"s":7,"x":2,"y":325},{"s":7,"x":5,"y":365},{"s":7,"x":8,"y":335},{"s":7,"x":11,"y":375},{"s":7,"x":14,"y":350},{"s":7,"x":17,"y":330},{"s":7,"x":20,"y":320},{"s":7,"x":23,"y":350},{"s":7,"x":26,"y":375},{"s":7,"x":29,"y":355},{"s":7,"x":32,"y":335},{"s":7,"x":35,"y":360},{"s":7,"x":38,"y":380},{"s":7,"x":41,"y":350},{"s":7,"x":44,"y":335},{"s":7,"x":47,"y":355},{"s":7,"x":50,"y":370},{"s":7,"x":54,"y":350},{"s":7,"x":57,"y":335},{"s":7,"x":60,"y":355},{"s":7,"x":64,"y":372},{"s":7,"x":68,"y":352},{"s":7,"x":72,"y":340},{"s":7,"x":76,"y":360},{"s":7,"x":80,"y":372},{"s":7,"x":84,"y":352},{"s":7,"x":88,"y":345},{"s":7,"x":92,"y":365},{"s":7,"x":96,"y":356},{"s":7,"x":100,"y":348},{"s":7,"x":104,"y":362},{"s":7,"x":108,"y":352},{"s":7,"x":112,"y":360},{"s":7,"x":116,"y":350},{"s":7,"x":121,"y":355},{"s":7,"x":126,"y":367},{"s":7,"x":131,"y":358},{"s":7,"x":137,"y":360},{"s":7,"x":144,"y":366},{"s":7,"x":151,"y":363},{"s":7,"x":156,"y":358},{"s":7,"x":161,"y":357},{"s":7,"x":166,"y":362},{"s":7,"x":172,"y":350},{"s":7,"x":177,"y":358},{"s":7,"x":181,"y":363},{"s":7,"x":186,"y":358},{"s":7,"x":191,"y":360},{"s":7,"x":196,"y":366},{"s":7,"x":201,"y":370},{"s":7,"x":207,"y":357},{"s":7,"x":214,"y":364},{"s":7,"x":221,"y":367},{"s":7,"x":228,"y":360},{"s":7,"x":234,"y":357},{"s":7,"x":239,"y":364},{"s":7,"x":244,"y":367},{"s":7,"x":249,"y":364},{"s":7,"x":254,"y":372},{"s":7,"x":259,"y":366},{"s":7,"x":264,"y":363},{"s":7,"x":269,"y":369},{"s":7,"x":274,"y":368},{"s":7,"x":284,"y":366},{"s":7,"x":294,"y":368},{"s":7,"x":302,"y":369},{"s":7,"x":311,"y":370},{"s":7,"x":319,"y":368},{"s":7,"x":327,"y":370},{"s":7,"x":336,"y":369},{"s":7,"x":344,"y":368},{"s":7,"x":352,"y":366},{"s":7,"x":361,"y":365},{"s":7,"x":364,"y":369},{"s":7,"x":367,"y":373},{"s":7,"x":372,"y":372},{"s":7,"x":377,"y":375},{"s":7,"x":380,"y":374},
{"s":8,"x":-43,"y":378},{"s":8,"x":-38,"y":375},{"s":8,"x":-33,"y":379},{"s":8,"x":-28,"y":374},{"s":8,"x":-22,"y":378},{"s":8,"x":-16,"y":373},{"s":8,"x":-10,"y":377},{"s":8,"x":-5,"y":375},{"s":8,"x":-2,"y":380},{"s":8,"x":0,"y":388},{"s":8,"x":2,"y":367},{"s":8,"x":7,"y":407},{"s":8,"x":12,"y":370},{"s":8,"x":17,"y":400},{"s":8,"x":22,"y":373},{"s":8,"x":26,"y":392},{"s":8,"x":29,"y":418},{"s":8,"x":33,"y":395},{"s":8,"x":37,"y":373},{"s":8,"x":42,"y":385},{"s":8,"x":46,"y":390},{"s":8,"x":52,"y":360},{"s":8,"x":56,"y":422},{"s":8,"x":60,"y":390},{"s":8,"x":62,"y":372},{"s":8,"x":64,"y":400},{"s":8,"x":67,"y":385},{"s":8,"x":71,"y":377},{"s":8,"x":75,"y":392},{"s":8,"x":78,"y":380},{"s":8,"x":81,"y":387},{"s":8,"x":84,"y":375},{"s":8,"x":87,"y":370},{"s":8,"x":91,"y":382},{"s":8,"x":94,"y":380},{"s":8,"x":97,"y":392},{"s":8,"x":100,"y":385},{"s":8,"x":104,"y":396},{"s":8,"x":108,"y":405},{"s":8,"x":111,"y":420},{"s":8,"x":114,"y":395},{"s":8,"x":117,"y":377},{"s":8,"x":121,"y":383},{"s":8,"x":125,"y":373},{"s":8,"x":129,"y":383},{"s":8,"x":134,"y":373},{"s":8,"x":139,"y":382},{"s":8,"x":144,"y":385},{"s":8,"x":149,"y":378},{"s":8,"x":154,"y":375},{"s":8,"x":157,"y":388},{"s":8,"x":161,"y":383},{"s":8,"x":167,"y":380},{"s":8,"x":171,"y":380},{"s":8,"x":177,"y":383},{"s":8,"x":184,"y":380},{"s":8,"x":192,"y":395},{"s":8,"x":198,"y":388},{"s":8,"x":204,"y":383},{"s":8,"x":210,"y":378},{"s":8,"x":218,"y":386},{"s":8,"x":227,"y":383},{"s":8,"x":235,"y":379},{"s":8,"x":244,"y":385},{"s":8,"x":252,"y":388},{"s":8,"x":261,"y":382},{"s":8,"x":268,"y":378},{"s":8,"x":277,"y":388},{"s":8,"x":282,"y":385},{"s":8,"x":287,"y":383},{"s":8,"x":295,"y":379},{"s":8,"x":304,"y":392},{"s":8,"x":312,"y":386},{"s":8,"x":321,"y":390},{"s":8,"x":330,"y":384},{"s":8,"x":341,"y":398},{"s":8,"x":348,"y":392},{"s":8,"x":354,"y":392},{"s":8,"x":360,"y":386},{"s":8,"x":364,"y":390},{"s":8,"x":370,"y":395},{"s":8,"x":377,"y":398},{"s":8,"x":380,"y":393}
],
"tdots":[
{"x":18,"y":62},{"x":57,"y":62},{"x":97,"y":62},{"x":214,"y":62},
{"x":-21,"y":85},{"x":18,"y":85},{"x":57,"y":85},{"x":97,"y":85},{"x":136,"y":85},{"x":175,"y":85},{"x":214,"y":85},{"x":253,"y":85},{"x":293,"y":85},
{"x":-21,"y":110},{"x":18,"y":110},{"x":57,"y":110},{"x":97,"y":110},{"x":136,"y":110},{"x":175,"y":110},{"x":214,"y":110},{"x":253,"y":110},{"x":293,"y":110},
{"x":-21,"y":135},{"x":18,"y":135},{"x":57,"y":135},{"x":97,"y":135},{"x":136,"y":135},{"x":175,"y":135},{"x":214,"y":135},{"x":253,"y":135},{"x":293,"y":135},
{"x":-21,"y":160},{"x":18,"y":160},{"x":57,"y":160},{"x":97,"y":160},{"x":136,"y":160},{"x":175,"y":160},{"x":214,"y":160},{"x":253,"y":160},{"x":293,"y":160},
{"x":-21,"y":186},{"x":18,"y":186},{"x":57,"y":186},{"x":97,"y":186},{"x":136,"y":186},{"x":175,"y":186},{"x":214,"y":186},{"x":253,"y":186},{"x":293,"y":186},
{"x":-21,"y":211},{"x":18,"y":211},{"x":57,"y":211},{"x":97,"y":211},{"x":136,"y":211},{"x":175,"y":211},{"x":214,"y":211},{"x":253,"y":211},{"x":293,"y":211},
{"x":-21,"y":236},{"x":18,"y":236},{"x":57,"y":236},{"x":97,"y":236},{"x":136,"y":236},{"x":175,"y":236},{"x":214,"y":236},{"x":253,"y":236},{"x":293,"y":236},
{"x":-21,"y":261},{"x":18,"y":261},{"x":57,"y":261},{"x":97,"y":261},{"x":136,"y":261},{"x":175,"y":261},{"x":214,"y":261},{"x":253,"y":261},{"x":293,"y":261},
{"x":-21,"y":287},{"x":18,"y":287},{"x":57,"y":287},{"x":97,"y":287},{"x":136,"y":287},{"x":175,"y":287},{"x":214,"y":287},{"x":253,"y":287},{"x":293,"y":287},
{"x":-21,"y":312},{"x":18,"y":312},{"x":57,"y":312},{"x":97,"y":312},{"x":136,"y":312},{"x":175,"y":312},{"x":214,"y":312},{"x":253,"y":312},{"x":293,"y":312},
{"x":-21,"y":337},{"x":18,"y":337},{"x":57,"y":337},{"x":97,"y":337},{"x":136,"y":337},{"x":175,"y":337},{"x":214,"y":337},{"x":253,"y":337},{"x":293,"y":337},
{"x":-21,"y":362},{"x":18,"y":362},{"x":57,"y":362},{"x":97,"y":362},{"x":136,"y":362},{"x":175,"y":362},{"x":214,"y":362},{"x":253,"y":362},{"x":293,"y":362},
{"x":-21,"y":387},{"x":18,"y":387},{"x":57,"y":387},{"x":97,"y":387},{"x":136,"y":387},{"x":175,"y":387},{"x":214,"y":387},{"x":253,"y":387},{"x":293,"y":387},
{"x":-21,"y":413},{"x":18,"y":413},{"x":57,"y":413},{"x":97,"y":413},{"x":136,"y":413},{"x":175,"y":413},{"x":214,"y":413},{"x":253,"y":413},{"x":293,"y":413},
{"x":-21,"y":438},{"x":18,"y":438},{"x":57,"y":438},{"x":97,"y":438},{"x":136,"y":438},{"x":175,"y":438},{"x":214,"y":438},{"x":253,"y":438},{"x":293,"y":438},
{"x":-21,"y":463},{"x":18,"y":463},{"x":57,"y":463},{"x":97,"y":463},{"x":136,"y":463},{"x":175,"y":463},{"x":214,"y":463},{"x":253,"y":463},{"x":293,"y":463},
{"x":-21,"y":488},{"x":18,"y":488},{"x":57,"y":488},{"x":97,"y":488},{"x":136,"y":488},{"x":175,"y":488},{"x":214,"y":488},{"x":253,"y":488},{"x":293,"y":488},
{"x":-21,"y":513},{"x":18,"y":513},{"x":57,"y":513},{"x":97,"y":513},{"x":136,"y":513},{"x":175,"y":513},{"x":214,"y":513},{"x":253,"y":513},{"x":293,"y":513}
],
"mdots":[
{"x":36,"y":61},{"x":80,"y":61},{"x":123,"y":61},{"x":253,"y":61},
{"x":-7,"y":93},{"x":36,"y":93},{"x":80,"y":93},{"x":123,"y":93},{"x":166,"y":93},{"x":209,"y":93},{"x":253,"y":93},{"x":296,"y":93},{"x":339,"y":93},
{"x":-7,"y":125},{"x":36,"y":125},{"x":80,"y":125},{"x":123,"y":125},{"x":166,"y":125},{"x":209,"y":125},{"x":253,"y":125},{"x":296,"y":125},{"x":339,"y":125},
{"x":-7,"y":157},{"x":36,"y":157},{"x":80,"y":157},{"x":123,"y":157},{"x":166,"y":157},{"x":209,"y":157},{"x":253,"y":157},{"x":296,"y":157},{"x":339,"y":157},
{"x":-7,"y":190},{"x":36,"y":190},{"x":80,"y":190},{"x":123,"y":190},{"x":166,"y":190},{"x":209,"y":190},{"x":253,"y":190},{"x":296,"y":190},{"x":339,"y":190},
{"x":-7,"y":222},{"x":36,"y":222},{"x":80,"y":222},{"x":123,"y":222},{"x":166,"y":222},{"x":209,"y":222},{"x":253,"y":222},{"x":296,"y":222},{"x":339,"y":222},
{"x":-7,"y":254},{"x":36,"y":254},{"x":80,"y":254},{"x":123,"y":254},{"x":166,"y":254},{"x":209,"y":254},{"x":253,"y":254},{"x":296,"y":254},{"x":339,"y":254},
{"x":-7,"y":286},{"x":36,"y":286},{"x":80,"y":286},{"x":123,"y":286},{"x":166,"y":286},{"x":209,"y":286},{"x":253,"y":286},{"x":296,"y":286},{"x":339,"y":286},
{"x":-7,"y":319},{"x":36,"y":319},{"x":80,"y":319},{"x":123,"y":319},{"x":166,"y":319},{"x":209,"y":319},{"x":253,"y":319},{"x":296,"y":319},{"x":339,"y":319},
{"x":-7,"y":351},{"x":36,"y":351},{"x":80,"y":351},{"x":123,"y":351},{"x":166,"y":351},{"x":209,"y":351},{"x":253,"y":351},{"x":296,"y":351},{"x":339,"y":351},
{"x":-7,"y":383},{"x":36,"y":383},{"x":80,"y":383},{"x":123,"y":383},{"x":166,"y":383},{"x":209,"y":383},{"x":253,"y":383},{"x":296,"y":383},{"x":339,"y":383},
{"x":-7,"y":415},{"x":36,"y":415},{"x":80,"y":415},{"x":123,"y":415},{"x":166,"y":415},{"x":209,"y":415},{"x":253,"y":415},{"x":296,"y":415},{"x":339,"y":415},
{"x":-7,"y":447},{"x":36,"y":447},{"x":80,"y":447},{"x":123,"y":447},{"x":166,"y":447},{"x":209,"y":447},{"x":253,"y":447},{"x":296,"y":447},{"x":339,"y":447},
{"x":-7,"y":480},{"x":36,"y":480},{"x":80,"y":480},{"x":123,"y":480},{"x":166,"y":480},{"x":209,"y":480},{"x":253,"y":480},{"x":296,"y":480},{"x":339,"y":480},
{"x":-7,"y":512},{"x":36,"y":512},{"x":80,"y":512},{"x":123,"y":512},{"x":166,"y":512},{"x":209,"y":512},{"x":253,"y":512},{"x":296,"y":512},{"x":339,"y":512}
],
"tlab":[{"t":"1.1","x":332,"y":143},{"t":"1.2","x":332,"y":167},{"t":"1.3","x":332,"y":190},{"t":"1.4","x":332,"y":213},{"t":"1.5","x":332,"y":237},{"t":"1.6","x":332,"y":260},{"t":"1.7","x":332,"y":283},{"t":"1.8","x":332,"y":307},{"t":"1.9","x":332,"y":330},{"t":"1.10","x":332,"y":353},{"t":"1.11","x":332,"y":377},{"t":"1.12","x":332,"y":402},{"t":"1.13","x":332,"y":426},{"t":"1.14","x":332,"y":448},{"t":"1.15","x":332,"y":472}],
"mlab":[{"t":"1.1","x":378,"y":172},{"t":"1.2","x":378,"y":202},{"t":"1.3","x":378,"y":232},{"t":"1.4","x":378,"y":262},{"t":"1.5","x":378,"y":292},{"t":"1.6","x":378,"y":322},{"t":"1.7","x":378,"y":352},{"t":"1.8","x":378,"y":382}],
"mbord":[{"x":379.5,"y":58},{"x":379.5,"y":518}],
"tarr":[{"t":"⇩","x":-46,"y":58},{"t":"⇦","x":0,"y":58},{"t":"-⇨","x":142,"y":58},{"t":"⇧","x":193,"y":58},{"t":"⇦","x":260,"y":58},{"t":"⇨","x":305,"y":58}],
"twrd":[{"t":"5mV","x":-23,"y":58},{"t":"500µV","x":168,"y":58},{"t":"10ms","x":282,"y":58},{"t":"15","x":325,"y":58}],
"marr":[{"t":"⇩","x":-34,"y":60},{"t":"⇧","x":19,"y":62},{"t":"-⇨","x":174,"y":67},{"t":"⇧","x":229,"y":69},{"t":"⇦","x":304,"y":70},{"t":"⇨","x":352,"y":71}],
"mwrd":[{"t":"5mV","x":-10,"y":61},{"t":"500µV","x":204,"y":68},{"t":"20ms","x":329,"y":71},{"t":"8","x":375,"y":68}]
},
"hconcat":[
{"width":392,"height":478,
"title":{"text":"Tibial","anchor":"middle","offset":8,"font":"Open Sans","fontSize":17,"fontWeight":"normal","color":"#1e1e1e"},
"encoding":{"x":{"field":"x","type":"quantitative","scale":{"domain":[-58,334],"nice":false,"zero":false},"axis":null},"y":{"field":"y","type":"quantitative","scale":{"domain":[40,518],"reverse":true,"nice":false,"zero":false},"axis":null}},
"layer":[
{"data":{"name":"tdots"},"mark":{"type":"square","size":4,"color":"#cf7d8a","opacity":1}},
{"data":{"values":[{"x":3,"x2":0,"y":45,"y2":518}]},"mark":{"type":"rule","color":"#4d6c9e","strokeWidth":1.2,"strokeDash":[7,4]},"encoding":{"x2":{"field":"x2"},"y2":{"field":"y2"}}},
{"data":{"values":[{"x":333.5,"y":52,"y2":518}]},"mark":{"type":"rule","color":"#333333","strokeWidth":1.5},"encoding":{"y2":{"field":"y2"}}},
{"data":{"name":"tib"},"mark":{"type":"line","interpolate":"monotone","strokeWidth":1.1,"clip":true},"encoding":{"color":{"field":"s","type":"nominal","legend":null,"scale":{"domain":[1,2,3,4,5,6,7,8,9,10,11,12,13,14,15],"range":["#1f1f1f","#1f1f1f","#1f1f1f","#1f1f1f","#1f1f1f","#1f1f1f","#1f1f1f","#1f1f1f","#5f80b5","#1f1f1f","#1f1f1f","#1f1f1f","#1f1f1f","#1f1f1f","#1f1f1f"]}}}},
{"data":{"name":"tlab"},"mark":{"type":"text","align":"right","baseline":"middle","font":"Liberation Sans","fontSize":9,"color":"#555555"},"encoding":{"text":{"field":"t"}}},
{"data":{"name":"tarr"},"mark":{"type":"text","align":"center","baseline":"middle","font":"DejaVu Sans","fontSize":13,"color":"#c9606f"},"encoding":{"text":{"field":"t"}}},
{"data":{"name":"twrd"},"mark":{"type":"text","align":"center","baseline":"middle","font":"Liberation Sans","fontSize":11,"color":"#444444"},"encoding":{"text":{"field":"t"}}}
]},
{"width":433,"height":478,
"title":{"text":"Medial","anchor":"middle","offset":8,"dx":24,"font":"Open Sans","fontSize":17,"fontWeight":"normal","color":"#1e1e1e"},
"encoding":{"x":{"field":"x","type":"quantitative","scale":{"domain":[-52,381],"nice":false,"zero":false},"axis":null},"y":{"field":"y","type":"quantitative","scale":{"domain":[40,518],"reverse":true,"nice":false,"zero":false},"axis":null}},
"layer":[
{"data":{"name":"mdots"},"mark":{"type":"square","size":4,"color":"#cf7d8a","opacity":1}},
{"data":{"values":[{"x":2,"x2":-3,"y":62,"y2":518}]},"mark":{"type":"rule","color":"#6f88aa","strokeWidth":1,"strokeDash":[7,4]},"encoding":{"x2":{"field":"x2"},"y2":{"field":"y2"}}},
{"data":{"name":"med"},"mark":{"type":"line","interpolate":"linear","strokeWidth":1.1,"clip":true},"encoding":{"color":{"field":"s","type":"nominal","legend":null,"scale":{"domain":[1,2,3,4,5,6,7,8],"range":["#1f1f1f","#1f1f1f","#1f1f1f","#1f1f1f","#1f1f1f","#1f1f1f","#1f1f1f","#5f80b5"]}}}},
{"data":{"name":"mbord"},"mark":{"type":"line","color":"#222222","strokeWidth":1.6},"encoding":{}},
{"data":{"name":"mlab"},"mark":{"type":"text","align":"right","baseline":"middle","font":"Liberation Sans","fontSize":9,"color":"#555555"},"encoding":{"text":{"field":"t"}}},
{"data":{"name":"marr"},"mark":{"type":"text","align":"center","baseline":"middle","font":"DejaVu Sans","fontSize":13,"color":"#c9606f"},"encoding":{"text":{"field":"t"}}},
{"data":{"name":"mwrd"},"mark":{"type":"text","align":"center","baseline":"middle","font":"Liberation Sans","fontSize":11,"color":"#444444"},"encoding":{"text":{"field":"t"}}}
]}
]
}
